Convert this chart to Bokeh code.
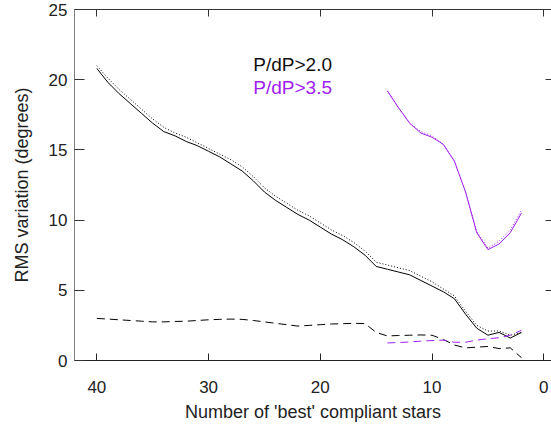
from bokeh.plotting import figure
from bokeh.models import Range1d, FixedTicker, LinearAxis, Label, CustomLabelingPolicy
from bokeh.embed import file_html
from bokeh.resources import INLINE

# Number of 'best' compliant stars
n_a = [40, 39, 38, 37, 36, 35, 34, 33, 32, 31, 30, 29, 28, 27, 26, 25, 24, 23, 22, 21,
       20, 19, 18, 17, 16, 15, 14, 13, 12, 11, 10, 9, 8, 7, 6, 5, 4, 3, 2]
# P/dP > 2.0 (black)
a_solid = [20.8, 19.8, 19.0, 18.3, 17.6, 16.9, 16.3, 16.0, 15.6, 15.3, 14.9, 14.5, 14.0, 13.5,
           12.8, 12.0, 11.4, 10.9, 10.4, 10.0, 9.5, 9.0, 8.6, 8.1, 7.5, 6.7, 6.5, 6.3, 6.1,
           5.7, 5.3, 4.9, 4.4, 3.3, 2.3, 1.8, 2.0, 1.6, 2.0]
a_dotted = [21.0, 20.1, 19.3, 18.6, 17.9, 17.2, 16.6, 16.2, 15.9, 15.5, 15.1, 14.7, 14.3, 13.8,
            13.1, 12.3, 11.7, 11.2, 10.7, 10.3, 9.8, 9.3, 8.9, 8.4, 7.8, 7.0, 6.8, 6.6, 6.4,
            6.0, 5.6, 5.1, 4.6, 3.5, 2.5, 2.1, 2.1, 1.8, 2.0]
a_dashed = [3.0, 2.95, 2.9, 2.85, 2.8, 2.75, 2.75, 2.78, 2.8, 2.85, 2.9, 2.93, 2.95, 2.93,
            2.85, 2.75, 2.65, 2.55, 2.45, 2.5, 2.55, 2.6, 2.62, 2.65, 2.63, 2.0, 1.75, 1.78,
            1.8, 1.82, 1.8, 1.5, 1.1, 0.9, 0.95, 1.0, 0.85, 0.9, 0.2]

# P/dP > 3.5 (purple)
n_b = [14, 13, 12, 11, 10, 9, 8, 7, 6, 5, 4, 3, 2]
b_solid = [19.2, 18.0, 16.9, 16.2, 15.9, 15.4, 14.2, 12.0, 9.1, 7.9, 8.3, 9.1, 10.5]
b_dotted = [19.2, 18.0, 16.9, 16.3, 16.0, 15.4, 14.2, 12.0, 9.2, 8.0, 8.5, 9.3, 10.7]
b_dashed = [1.25, 1.28, 1.32, 1.38, 1.42, 1.45, 1.3, 1.3, 1.45, 1.55, 1.62, 1.8, 2.15]

x_ticks = [0, 10, 20, 30, 40]
y_ticks = [0, 5, 10, 15, 20, 25]
labels = ["P/dP>2.0", "P/dP>3.5"]

BLACK = "#000000"
PURPLE = "#A020F0"
FONT = "Liberation Sans"

p = figure(width=551, height=433, x_range=Range1d(42, -0.69), y_range=Range1d(0, 25),
           output_backend="svg", toolbar_location=None,
           min_border_left=74, min_border_right=0, min_border_top=9, min_border_bottom=73)
p.xgrid.visible = False
p.ygrid.visible = False
p.outline_line_color = None
p.background_fill_color = "white"
p.border_fill_color = "white"

xa = p.xaxis[0]
xa.ticker = FixedTicker(ticks=x_ticks, minor_ticks=[])
xa.major_tick_in = 7
xa.major_tick_out = 0
xa.axis_line_color = "#222222"
xa.major_tick_line_color = "#222222"
xa.major_label_text_font = FONT
xa.major_label_text_font_size = "17px"
xa.major_label_text_color = "#222222"
xa.major_label_standoff = 20
xa.axis_label = "Number of 'best' compliant stars"
xa.axis_label_text_font = FONT
xa.axis_label_text_font_size = "18px"
xa.axis_label_text_font_style = "normal"
xa.axis_label_text_color = "#222222"
xa.axis_label_standoff = 6

ya = p.yaxis[0]
ya.ticker = FixedTicker(ticks=y_ticks, minor_ticks=[])
ya.major_tick_in = 10
ya.major_tick_out = 0
ya.axis_line_color = "#808080"
ya.major_tick_line_color = "#333333"
ya.major_label_text_font = FONT
ya.major_label_text_font_size = "17px"
ya.major_label_text_color = "#222222"
ya.major_label_standoff = 7
ya.axis_label = "RMS variation (degrees)"
ya.axis_label_text_font = FONT
ya.axis_label_text_font_size = "18px"
ya.axis_label_text_font_style = "normal"
ya.axis_label_text_color = "#222222"
ya.axis_label_standoff = 14

no_labels = "return new Set()"

top = LinearAxis(ticker=FixedTicker(ticks=x_ticks, minor_ticks=[]), major_tick_in=7,
                 major_tick_out=0, axis_line_color="#333333", major_tick_line_color="#333333",
                 major_label_policy=CustomLabelingPolicy(code=no_labels),
                 major_label_text_font_size="0px",
                 major_label_standoff=0, minor_tick_in=0, minor_tick_out=0)
p.add_layout(top, "above")
right = LinearAxis(ticker=FixedTicker(ticks=[5, 10, 15, 20], minor_ticks=[]), major_tick_in=6,
                   major_tick_out=0, axis_line_color=None, major_tick_line_color="#333333",
                   major_label_policy=CustomLabelingPolicy(code=no_labels),
                   major_label_text_font_size="0px",
                   major_label_standoff=0, minor_tick_in=0, minor_tick_out=0)
p.add_layout(right, "right")

p.line(n_a, a_solid, line_color=BLACK, line_width=1)
p.line(n_a, a_dotted, line_color=BLACK, line_width=1, line_dash="1 2")
p.line(n_a, a_dashed, line_color=BLACK, line_width=1, line_dash="8 5")
p.line(n_b, b_solid, line_color=PURPLE, line_width=1)
p.line(n_b, b_dotted, line_color=PURPLE, line_width=1, line_dash="1 2")
p.line(n_b, b_dashed, line_color=PURPLE, line_width=1, line_dash="8 5")

p.add_layout(Label(x=26.0, y=20.3, text=labels[0], text_color="#111111",
                   text_font=FONT, text_font_size="19px"))
p.add_layout(Label(x=26.0, y=18.7, text=labels[1], text_color=PURPLE,
                   text_font=FONT, text_font_size="19px"))

open("out.html", "w").write(file_html(p, INLINE))
